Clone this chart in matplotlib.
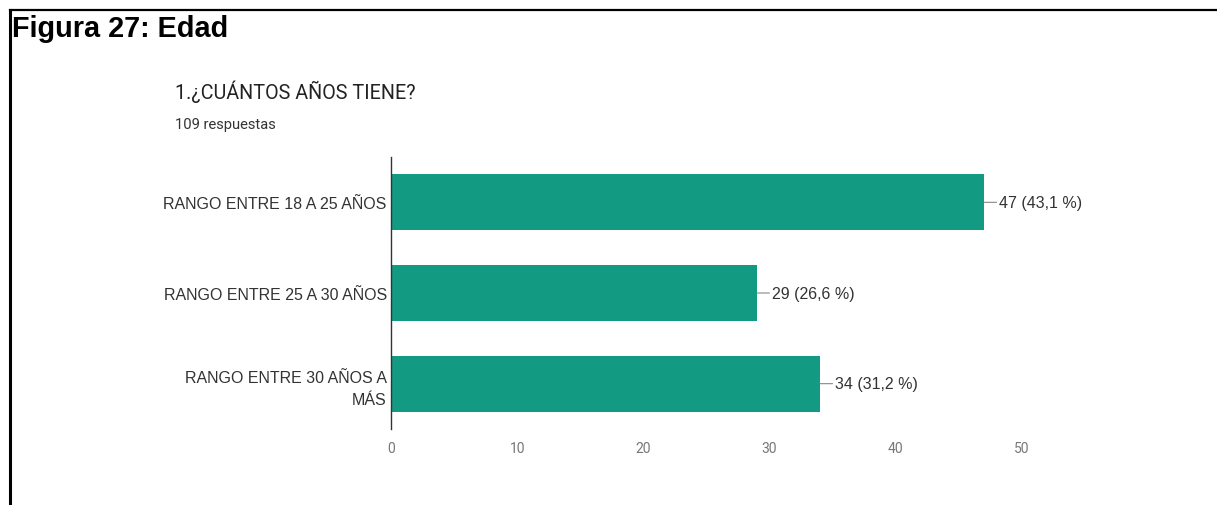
import matplotlib.pyplot as plt
from matplotlib.lines import Line2D

# survey answers, question 1
categorias = ['RANGO ENTRE 18 A 25 AÑOS', 'RANGO ENTRE 25 A 30 AÑOS', 'RANGO ENTRE 30 AÑOS A\nMÁS']
respuestas = [47, 29, 34]
porcentajes = ['43,1', '26,6', '31,2']
total = 109
xticks = [0, 10, 20, 30, 40, 50]

color_barra = '#139a83'

fig = plt.figure(figsize=(12.17, 5.06), dpi=100)
fig.patch.set_facecolor('white')

# frame lines (left and top only)
fig.add_artist(Line2D([10/1217, 10/1217], [0, 1 - 11/506], color='black', lw=2.2))
fig.add_artist(Line2D([10/1217, 1], [1 - 11/506, 1 - 11/506], color='black', lw=1.6))

fig.text(12/1217, 1 - 29/506, 'Figura 27: Edad', family='Liberation Sans', weight='bold',
         fontsize=20.8, va='center', ha='left', color='black')

fig.text(175/1217, 1 - 92/506, '1.¿CUÁNTOS AÑOS TIENE?', family='Roboto', fontsize=14.2,
         va='center', ha='left', color='#222222')
fig.text(175/1217, 1 - 125/506, f'{total} respuestas', family='Roboto', fontsize=10.6,
         va='center', ha='left', color='#333333')

ax = fig.add_axes([391/1217, 1 - 430/506, (1085 - 391)/1217, 272/506])
y = list(range(len(categorias)))
ax.barh(y, respuestas, height=0.62, color=color_barra)
ax.set_xlim(0, 55)
ax.set_ylim(2.5, -0.5)

for s in ['top', 'right', 'bottom']:
    ax.spines[s].set_visible(False)
ax.spines['left'].set_color('#333333')
ax.spines['left'].set_linewidth(1.0)

ax.set_yticks(y)
ax.set_yticklabels(categorias, family='Liberation Sans', fontsize=11.5, color='#333333',
                   linespacing=1.55)
ax.tick_params(axis='y', length=0, pad=3)
ax.set_xticks(xticks)
ax.set_xticklabels([str(t) for t in xticks], family='Roboto', fontsize=10, color='#777777')
ax.tick_params(axis='x', length=0, pad=9)

for yi, v, p in zip(y, respuestas, porcentajes):
    ax.annotate(f'{v} ({p} %)', xy=(v, yi), xytext=(11, 0), textcoords='offset points',
                va='center', ha='left', family='Liberation Sans', fontsize=11.5, color='#333333',
                arrowprops=dict(arrowstyle='-', color='#888888', lw=0.8, shrinkA=0, shrinkB=0))

fig.savefig('out.png', dpi=100, facecolor='white')
